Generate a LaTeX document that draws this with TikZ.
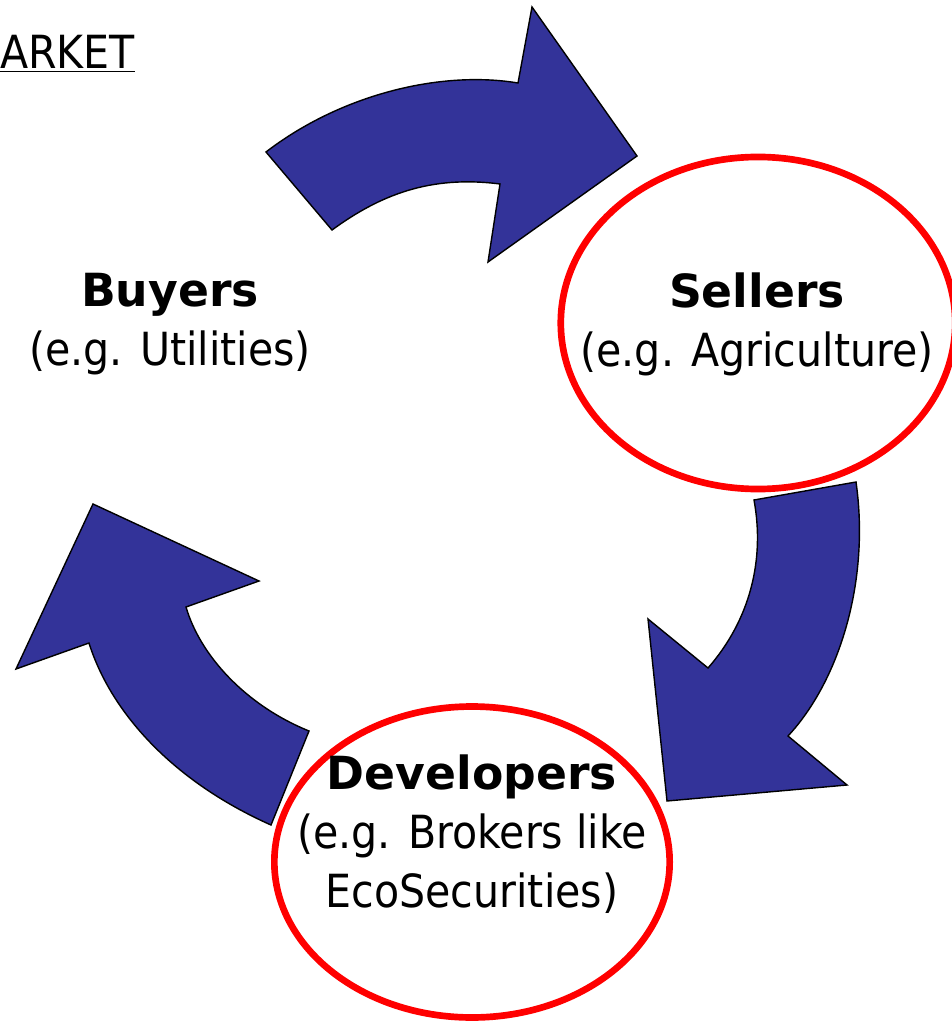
\documentclass[tikz,border=0pt]{standalone}
\usepackage{fontspec}
\setmainfont{DejaVu Sans Condensed}[BoldFont={DejaVu Sans Bold}]
\usepackage{tikz}
\usetikzlibrary{positioning}
\usetikzlibrary{shapes.geometric}
\pgfdeclarelayer{background}
\pgfdeclarelayer{foreground}
\pgfsetlayers{background,main,foreground}
\definecolor{arrowblue}{HTML}{333399}
\definecolor{ringred}{HTML}{FF0000}

\begin{document}
\begin{tikzpicture}[x=0.02cm, y=-0.02cm,
							ovalnode/.style={ellipse, draw=ringred, line width=3.8pt, inner sep=0pt},
							textnode/.style={align=center, inner sep=0pt, font=\fontsize{26}{33.5}\selectfont},
							bigarrow/.style={fill=arrowblue, draw=black, line width=0.8pt, line join=miter},
							]
							\useasboundingbox (0,0) rectangle (951,1023);
							%Nodes
							\node[anchor=base west, inner sep=0pt, font=\fontsize{26}{30}\selectfont] (title) at (0,69) {\underline{ARKET}};
							\node[textnode]      (buyers) 	at 	(170,324)        {\textbf{Buyers}\\(e.g. Utilities)};
							\node[ovalnode, minimum width=224.5pt, minimum height=189pt]      (sellersring) 	at 	(758,323)          {};
							\node[textnode]      (sellers) 	at 	(757,324)          {\textbf{Sellers}\\(e.g. Agriculture)};
							\node[ovalnode, minimum width=225pt, minimum height=177pt]      (developersring) 	at 	(472,862)          {};
							\node[textnode]      (developers) 	at 	(472,834)          {\textbf{Developers}\\(e.g. Brokers like\\EcoSecurities)};
							
							\begin{pgfonlayer}{background}
							%Buyers to sellers
							\draw[bigarrow] (266,152) .. controls (340,95) and (440,70) .. (518,83) -- (532,7) -- (637,156) -- (488,262) -- (500,184) .. controls (430,175) and (380,195) .. (332,230) -- cycle;
							%Sellers to developers
							\draw[bigarrow] (856,482) -- (754,500) .. controls (765,560) and (750,620) .. (708,668) -- (648,619) -- (667,801) -- (847,785) -- (788,736) .. controls (840,680) and (870,580) .. (856,482) -- cycle;
							%Developers to buyers
							\draw[bigarrow] (309,731) -- (271,825) .. controls (170,780) and (110,710) .. (89,643) -- (16,669) -- (93,504) -- (259,581) -- (186,607) .. controls (200,655) and (245,705) .. (309,731) -- cycle;
							\end{pgfonlayer}
						\end{tikzpicture}
\end{document}
